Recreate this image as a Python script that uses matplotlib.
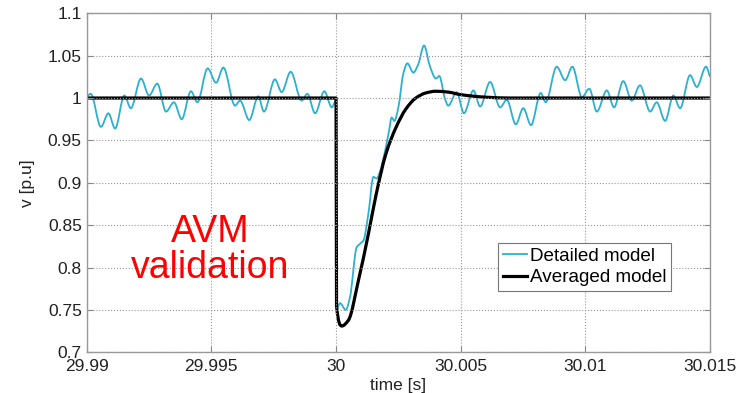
import numpy as np
import matplotlib.pyplot as plt
from matplotlib.path import Path
from matplotlib.patches import PathPatch
from matplotlib.lines import Line2D

plt.rcParams['font.family'] = ['Liberation Sans', 'DejaVu Sans']

# Detailed model: time offset from t = 30 s in ms, voltage in p.u.
detailed_ms = [-10.0, -9.84, -9.43, -9.13, -8.86, -8.49, -8.23, -7.82, -7.50, -7.17,
               -6.82, -6.50, -6.19, -5.82, -5.56, -5.15, -4.81, -4.52, -4.05, -3.85,
               -3.48, -3.12, -2.89, -2.45, -2.18, -1.82, -1.38, -1.15, -0.84, -0.47,
               -0.17, 0.0, 0.03, 0.16, 0.39, 0.56, 0.83, 0.96, 1.10, 1.30,
               1.50, 1.63, 1.76, 1.97, 2.13, 2.23, 2.34, 2.50, 2.70, 2.86,
               3.10, 3.30, 3.53, 3.77, 4.01, 4.14, 4.37, 4.50, 4.84, 5.13,
               5.51, 5.78, 6.18, 6.58, 6.85, 7.21, 7.51, 7.82, 8.21, 8.41,
               8.85, 9.19, 9.48, 9.86, 10.16, 10.46, 10.86, 11.15, 11.52, 11.86,
               12.19, 12.60, 12.86, 13.20, 13.53, 13.80, 14.20, 14.47, 14.84, 15.0]
detailed_v = [1.001, 1.005, 0.966, 0.982, 0.964, 1.003, 0.988, 1.023, 1.003, 1.017,
              0.984, 0.995, 0.975, 1.008, 0.995, 1.035, 1.018, 1.036, 0.991, 0.997,
              0.974, 1.002, 0.984, 1.022, 1.007, 1.031, 0.997, 1.005, 0.982, 1.008,
              0.989, 0.997, 0.752, 0.758, 0.750, 0.765, 0.824, 0.828, 0.832, 0.864,
              0.907, 0.905, 0.913, 0.938, 0.962, 0.977, 0.973, 0.989, 1.029, 1.041,
              1.030, 1.040, 1.062, 1.037, 1.023, 1.026, 0.999, 0.991, 1.007, 0.982,
              1.009, 0.990, 1.019, 0.989, 0.998, 0.969, 0.988, 0.968, 1.006, 0.995,
              1.037, 1.021, 1.037, 1.001, 1.011, 0.984, 1.009, 0.989, 1.020, 0.997,
              1.015, 0.984, 0.995, 0.973, 1.003, 0.988, 1.027, 1.013, 1.037, 1.025]

# Averaged model
averaged_ms = [-10.0, 0.0, 0.02, 0.23, 0.5, 0.9, 1.3, 1.6, 2.0, 2.4, 2.8,
               3.2, 3.6, 4.0, 4.5, 5.0, 6.0, 7.0, 15.0]
averaged_v = [1.0, 1.0, 0.755, 0.731, 0.738, 0.785, 0.840, 0.885, 0.934, 0.965, 0.987,
              1.0, 1.006, 1.008, 1.007, 1.004, 1.001, 1.0, 1.0]

x_ticks = [29.99, 29.995, 30, 30.005, 30.01, 30.015]
x_labels = ['29.99', '29.995', '30', '30.005', '30.01', '30.015']
y_ticks = [0.7, 0.75, 0.8, 0.85, 0.9, 0.95, 1.0, 1.05, 1.1]
y_labels = ['0.7', '0.75', '0.8', '0.85', '0.9', '0.95', '1', '1.05', '1.1']

DET_COLOR = '#2bb0d2'


def smooth_path(x, y):
    # monotone cubic (Fritsch-Carlson style) drawn as bezier segments through the points
    x = np.asarray(x, float)
    y = np.asarray(y, float)
    h = np.diff(x)
    d = np.diff(y) / h
    m = np.zeros_like(y)
    m[0], m[-1] = d[0], d[-1]
    for i in range(1, len(x) - 1):
        if d[i - 1] * d[i] > 0:
            w1 = 2 * h[i] + h[i - 1]
            w2 = h[i] + 2 * h[i - 1]
            m[i] = (w1 + w2) / (w1 / d[i - 1] + w2 / d[i])
    verts = [(x[0], y[0])]
    codes = [Path.MOVETO]
    for i in range(len(x) - 1):
        verts += [(x[i] + h[i] / 3, y[i] + m[i] * h[i] / 3),
                  (x[i + 1] - h[i] / 3, y[i + 1] - m[i + 1] * h[i] / 3),
                  (x[i + 1], y[i + 1])]
        codes += [Path.CURVE4] * 3
    return Path(verts, codes)


t_det = 30 + np.array(detailed_ms) / 1000
t_avg = 30 + np.array(averaged_ms) / 1000

fig = plt.figure(figsize=(7.5, 3.93), dpi=100)
ax = fig.add_axes([0.1156, 0.1036, 0.8311, 0.8626])

ax.add_patch(PathPatch(smooth_path(t_det, detailed_v), fill=False,
                       edgecolor=DET_COLOR, lw=1.3, joinstyle='round'))
ax.add_patch(PathPatch(smooth_path(t_avg, averaged_v), fill=False,
                       edgecolor='black', lw=2.3, joinstyle='round'))

ax.set_xlim(29.99, 30.015)
ax.set_ylim(0.7, 1.1)
ax.set_xticks(x_ticks)
ax.set_xticklabels(x_labels)
ax.set_yticks(y_ticks)
ax.set_yticklabels(y_labels)
ax.tick_params(direction='in', length=4, color='#888888', labelsize=12.5,
               labelcolor='#222222', top=True, right=True)
ax.tick_params(axis='x', pad=5)
ax.grid(True, linestyle=':', color='#999999', lw=0.8)
for s in ax.spines.values():
    s.set_color('#999999')
    s.set_linewidth(1.0)

ax.set_xlabel('time [s]', fontsize=12.5, color='#222222', labelpad=3)
ax.set_ylabel('v [p.u]', fontsize=12.5, color='#222222', labelpad=9)

ax.text(29.99495, 0.821, 'AVM\nvalidation', color='red', fontsize=27,
        ha='center', va='center', linespacing=1.0)

handles = [Line2D([], [], color=DET_COLOR, lw=1.3),
           Line2D([], [], color='black', lw=2.3)]
leg = ax.legend(handles, ['Detailed model', 'Averaged model'],
                loc='upper left', bbox_to_anchor=(498 / 750, 1 - 243 / 393),
                bbox_transform=fig.transFigure, fontsize=13.6, frameon=True,
                fancybox=False, edgecolor='#777777', framealpha=1,
                handlelength=1.3, handletextpad=0.15, borderpad=0.25,
                labelspacing=0.22, borderaxespad=0)
leg.get_frame().set_linewidth(0.8)

fig.savefig('out.png', dpi=100)
